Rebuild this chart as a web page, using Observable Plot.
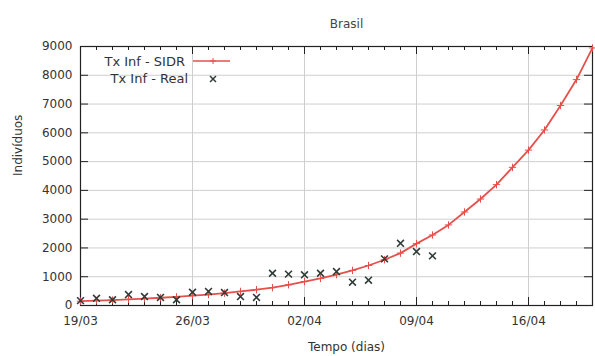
<!DOCTYPE html>
<html><head><meta charset="utf-8">
<script src="https://cdn.jsdelivr.net/npm/d3@7"></script>
<script src="https://cdn.jsdelivr.net/npm/@observablehq/plot@0.6"></script>
<style>body{margin:0;background:#fff}</style>
</head><body><div id="chart"></div>
<script>
const days = [
  "2020-03-19","2020-03-20","2020-03-21","2020-03-22","2020-03-23","2020-03-24","2020-03-25",
  "2020-03-26","2020-03-27","2020-03-28","2020-03-29","2020-03-30","2020-03-31","2020-04-01",
  "2020-04-02","2020-04-03","2020-04-04","2020-04-05","2020-04-06","2020-04-07","2020-04-08",
  "2020-04-09","2020-04-10","2020-04-11","2020-04-12","2020-04-13","2020-04-14","2020-04-15",
  "2020-04-16","2020-04-17","2020-04-18","2020-04-19","2020-04-20"
];
const sidr = [150,170,190,215,240,270,300,340,380,430,490,550,620,720,830,940,1070,1220,1390,1590,1820,2150,2450,2800,3250,3700,4200,4800,5400,6100,6950,7850,8950];
const real = [170,250,200,380,310,280,200,460,490,450,310,280,1120,1090,1065,1120,1180,810,880,1620,2160,1875,1725];
const majorTicks = ["2020-03-19","2020-03-26","2020-04-02","2020-04-09","2020-04-16"];
const yTicks = [0,1000,2000,3000,4000,5000,6000,7000,8000,9000];
const seriesNames = ["Tx Inf - SIDR", "Tx Inf - Real"];

const parse = d3.utcParse("%Y-%m-%d");
const dayDates = days.map(parse);
const majorDates = majorTicks.map(parse);
const sidrData = dayDates.map((d, i) => ({date: d, v: sidr[i]}));
const realData = real.map((v, i) => ({date: dayDates[i], v}));

const W = 595, H = 356, mL = 80, mR = 3, mT = 46, mB = 51;
const fw = W - mL - mR, fh = H - mT - mB;
const red = "#e6504b", dark = "#303c36", ink = "#222", grid = "#cfcfcf";

const plot = Plot.plot({
  width: W, height: H,
  marginLeft: mL, marginRight: mR, marginTop: mT, marginBottom: mB,
  style: {fontFamily: "DejaVu Sans", fontSize: "12px", color: "#333", background: "#fff"},
  x: {type: "utc", domain: [dayDates[0], dayDates[dayDates.length - 1]]},
  y: {domain: [0, 9000]},
  marks: [
    Plot.gridY(yTicks.slice(1, -1), {stroke: grid, strokeOpacity: 1}),
    Plot.gridX(majorDates.slice(1), {stroke: grid, strokeOpacity: 1}),
    Plot.axisY(yTicks, {tickSize: 0, tickPadding: 8, label: null, tickFormat: d3.format("d")}),
    Plot.axisX(majorDates, {tickSize: 0, tickPadding: 11, label: null, tickFormat: d3.utcFormat("%d/%m")}),
    Plot.tickX(dayDates, {x: d => d, insetTop: fh - 4, stroke: ink}),
    Plot.tickX(dayDates, {x: d => d, insetBottom: fh - 4, stroke: ink}),
    Plot.tickX(majorDates, {x: d => d, insetTop: fh - 8, stroke: ink}),
    Plot.tickX(majorDates, {x: d => d, insetBottom: fh - 8, stroke: ink}),
    Plot.tickY(yTicks, {y: d => d, insetRight: fw - 8, stroke: ink}),
    Plot.tickY(yTicks, {y: d => d, insetLeft: fw - 8, stroke: ink}),
    Plot.frame({stroke: ink, strokeWidth: 1.2}),
    Plot.line(sidrData, {x: "date", y: "v", stroke: red, strokeWidth: 1.8}),
    Plot.dot(sidrData, {x: "date", y: "v", symbol: "plus", r: 2.5, stroke: red, strokeWidth: 1}),
    Plot.dot(realData, {x: "date", y: "v", symbol: "times", r: 3.2, stroke: dark, strokeWidth: 1.6}),
    Plot.text(["Brasil"], {text: d => d, frameAnchor: "top", dy: -27, dx: 10, fill: "#444", fontSize: 12}),
    Plot.text(["Tempo (dias)"], {text: d => d, frameAnchor: "bottom", dy: 45, dx: 10, fill: "#333", fontSize: 12}),
    Plot.text(["Indivíduos"], {text: d => d, frameAnchor: "left", dx: -62, rotate: -90, fill: "#333", fontSize: 12})
  ]
});
document.getElementById("chart").appendChild(plot);

// legend (inside top-left of the frame)
const svg = d3.select(plot);
const lg = svg.append("g").attr("font-family", "DejaVu Sans").attr("font-size", 13).attr("fill", "#333");
lg.append("text").attr("x", 185).attr("y", 62).attr("text-anchor", "end").attr("dominant-baseline", "middle").text(seriesNames[0]);
lg.append("line").attr("x1", 193).attr("x2", 230).attr("y1", 61).attr("y2", 61).attr("stroke", red).attr("stroke-width", 1.6);
lg.append("path").attr("d", "M210,61h6M213,58v6").attr("stroke", red);
lg.append("text").attr("x", 188).attr("y", 79).attr("text-anchor", "end").attr("dominant-baseline", "middle").text(seriesNames[1]);
lg.append("path").attr("d", "M210,76l6,6M216,76l-6,6").attr("stroke", dark).attr("stroke-width", 1.5);
</script>
</body></html>
